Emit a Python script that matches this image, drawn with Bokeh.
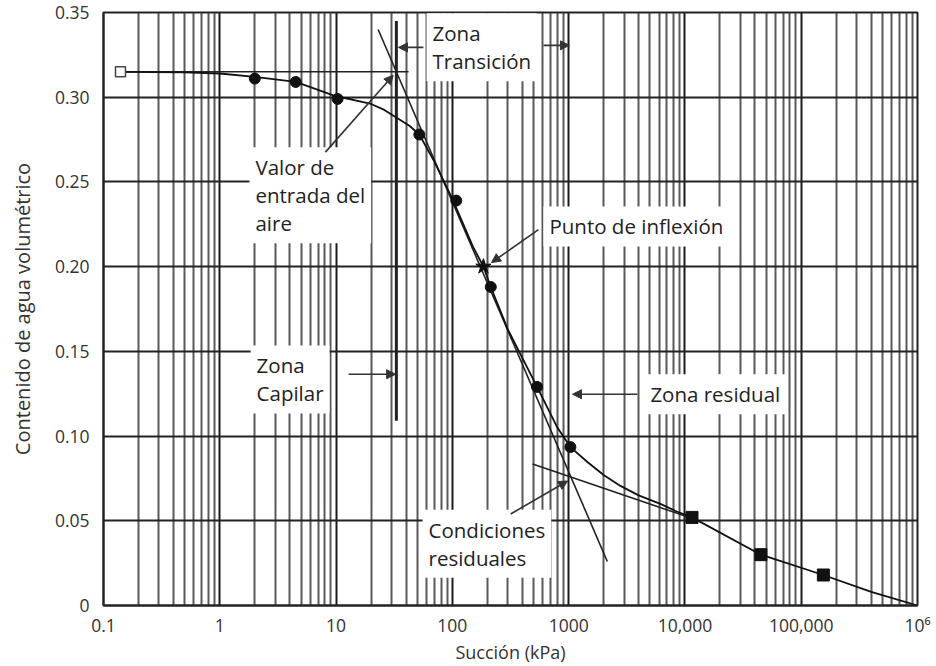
from bokeh.plotting import figure
from bokeh.models import (Label, Arrow, NormalHead, FixedTicker, Range1d)
from bokeh.embed import file_html
from bokeh.resources import INLINE

# ---- data ----
x_open = [0.14]
y_open = [0.315]

x_circles = [2.0, 4.5, 10.3, 52, 108, 214, 535, 1035]
y_circles = [0.311, 0.309, 0.299, 0.278, 0.239, 0.188, 0.129, 0.0935]

x_squares = [11500, 45000, 155000]
y_squares = [0.052, 0.030, 0.018]

x_star = [185]
y_star = [0.200]

curve_x = [0.14, 0.5, 1, 2, 4.5, 10, 14, 20, 26, 34, 43, 52, 70, 100, 150, 185, 214, 300,
           535, 800, 1035, 1450, 2000, 2790, 4000, 6150, 8500, 11500, 45000, 155000,
           400000, 1000000]
curve_y = [0.315, 0.3147, 0.314, 0.312, 0.309, 0.3005, 0.2985, 0.296, 0.2925, 0.2875,
           0.283, 0.278, 0.262, 0.240, 0.212, 0.200, 0.188, 0.163, 0.129, 0.105, 0.0935,
           0.0847, 0.077, 0.0706, 0.065, 0.060, 0.0555, 0.052, 0.030, 0.018, 0.008, 0.0]

# construction lines
hline_x = [0.14, 42]
hline_y = [0.315, 0.315]
steep_x = [23, 2150]
steep_y = [0.340, 0.026]
resid_x = [490, 12000]
resid_y = [0.0835, 0.051]
vline_x = [33, 33]
vline_y = [0.345, 0.109]

x_tick_vals = [0.1, 1, 10, 100, 1000, 10000, 100000, 1000000]
x_tick_labels = ["0.1", "1", "10", "100", "1000", "10,000", "100,000", "10\u2076"]
y_tick_vals = [0, 0.05, 0.10, 0.15, 0.20, 0.25, 0.30, 0.35]
y_tick_labels = ["0", "0.05", "0.10", "0.15", "0.20", "0.25", "0.30", "0.35"]

FONT = "Open Sans"

p = figure(width=936, height=666, x_axis_type="log", output_backend="svg",
           toolbar_location=None, x_range=Range1d(0.1, 1e6), y_range=Range1d(0, 0.35),
           min_border_left=103, min_border_right=19, min_border_top=12, min_border_bottom=55)
p.outline_line_color = "#222"
p.outline_line_width = 2

p.xaxis.ticker = FixedTicker(ticks=x_tick_vals,
                             minor_ticks=[m * 10.0 ** k for k in range(-1, 6) for m in range(2, 10)])
p.xaxis.major_label_overrides = {v: l for v, l in zip(x_tick_vals, x_tick_labels)}
p.yaxis.ticker = FixedTicker(ticks=y_tick_vals)
p.yaxis.major_label_overrides = {v: l for v, l in zip(y_tick_vals, y_tick_labels)}

for ax in (p.xaxis, p.yaxis):
    ax.major_label_text_font = FONT
    ax.major_label_text_font_size = "17.5px"
    ax.major_label_text_color = "#333"
    ax.axis_label_text_font = FONT
    ax.axis_label_text_font_style = "normal"
    ax.axis_label_text_color = "#333"
    ax.axis_line_color = "#222"
    ax.axis_line_width = 2
    ax.major_tick_line_color = None
    ax.minor_tick_line_color = None
p.xaxis.axis_label = "Succión (kPa)"
p.yaxis.axis_label = "Contenido de agua volumétrico"
p.xaxis.axis_label_text_font_size = "18px"
p.yaxis.axis_label_text_font_size = "20px"
p.xaxis.major_label_standoff = 1
p.yaxis.major_label_standoff = 8
p.xaxis.axis_label_standoff = 0
p.yaxis.axis_label_standoff = 16

p.xgrid.grid_line_color = "#1a1a1a"
p.xgrid.grid_line_width = 2
p.xgrid.grid_line_alpha = 1
p.xgrid.minor_grid_line_color = "#3c3c3c"
p.xgrid.minor_grid_line_width = 2
p.xgrid.minor_grid_line_alpha = 0.85
p.ygrid.grid_line_color = "#222"
p.ygrid.grid_line_width = 1.8
p.ygrid.grid_line_alpha = 1

# construction lines
p.line(hline_x, hline_y, line_color="#222", line_width=1.6)
p.line(steep_x, steep_y, line_color="#222", line_width=1.6)
p.line(resid_x, resid_y, line_color="#222", line_width=1.6)
p.line(vline_x, vline_y, line_color="#222", line_width=3)

# curve
p.line(curve_x, curve_y, line_color="#111", line_width=1.8)

# markers
p.scatter(x_open, y_open, marker="square", size=10, fill_color="white", line_color="#444", line_width=1.5)
p.scatter(x_circles, y_circles, marker="circle", size=11, fill_color="#111", line_color="#111")
p.scatter(x_squares, y_squares, marker="square", size=12, fill_color="#111", line_color="#111")
p.scatter(x_star, y_star, marker="star", size=16, fill_color="#111", line_color="#111")


def label(x, y, text):
    p.add_layout(Label(x=x, y=y, text=text, text_font=FONT, text_font_size="20.5px",
                       text_color="#222", text_baseline="top", text_align="left",
                       text_line_height=1.0, background_fill_color="white",
                       background_fill_alpha=1.0, padding=6))


label(60, 0.3495, "Zona\nTransición")
label(1.8, 0.2705, "Valor de\nentrada del\naire")
label(607, 0.2355, "Punto de inflexión")
label(1.84, 0.1535, "Zona\nCapilar")
label(4480, 0.1365, "Zona residual")
label(55.4, 0.0565, "Condiciones\nresiduales")


def arrow(x0, y0, x1, y1):
    p.add_layout(Arrow(x_start=x0, y_start=y0, x_end=x1, y_end=y1,
                       line_color="#333", line_width=1.6,
                       end=NormalHead(size=9, fill_color="#333", line_color="#333")))


arrow(56.4, 0.3294, 34.4, 0.3294)
arrow(607, 0.3306, 1016, 0.3306)
arrow(8.1, 0.2676, 31, 0.313)
arrow(550, 0.2218, 217, 0.2024)
arrow(12.8, 0.1365, 32.5, 0.1365)
arrow(3900, 0.1247, 1080, 0.1247)
arrow(317, 0.054, 980, 0.0735)

open("out.html", "w").write(file_html(p, INLINE))
